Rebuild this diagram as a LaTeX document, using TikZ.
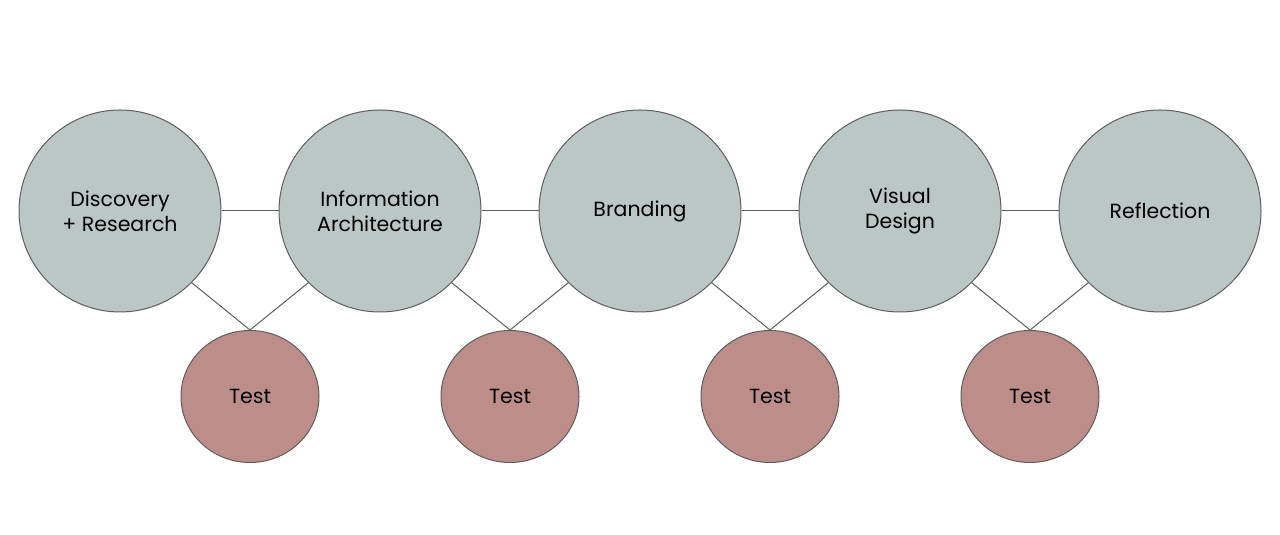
\documentclass[tikz,border=0pt]{standalone}
\usepackage{fontspec}
\setmainfont{Poppins}
\usetikzlibrary{shapes.geometric}
\definecolor{sage}{HTML}{BAC7C4}
\definecolor{clay}{HTML}{BD8E89}
\definecolor{rim}{HTML}{5E5E5E}

\begin{document}
\begin{tikzpicture}[x=1pt,y=1pt,
  phase/.style={circle,draw=rim,fill=sage,line width=1pt,minimum size=202pt,inner sep=0pt,align=center,font=\fontsize{20.5}{25}\selectfont},
  testnode/.style={ellipse,draw=rim,fill=clay,line width=1pt,minimum width=138pt,minimum height=132pt,inner sep=0pt,font=\fontsize{20.5}{25}\selectfont},
  link/.style={draw=rim,line width=1pt}]
  \useasboundingbox[fill=white] (0,0) rectangle (1280,535);
  % phases along the top row
  \foreach \i/\x/\t in {1/120/{Discovery\\+ Research},2/380/{Information\\Architecture},3/640/Branding,4/900/{Visual\\Design},5/1160/Reflection}{
    \node[phase] (d\i) at (\x,324) {\t};
  }
  % tests in between
  \foreach \i/\x in {1/250,2/510,3/770,4/1030}{
    \node[testnode] (t\i) at (\x,138.5) {Test};
  }
  % links between phases and tests
  \foreach \i [evaluate=\i as \j using int(\i+1)] in {1,...,4}{
    \draw[link] (d\i) -- (d\j);
    \draw[link] (d\i.south east) -- (t\i.north) -- (d\j.south west);
  }
\end{tikzpicture}
\end{document}
